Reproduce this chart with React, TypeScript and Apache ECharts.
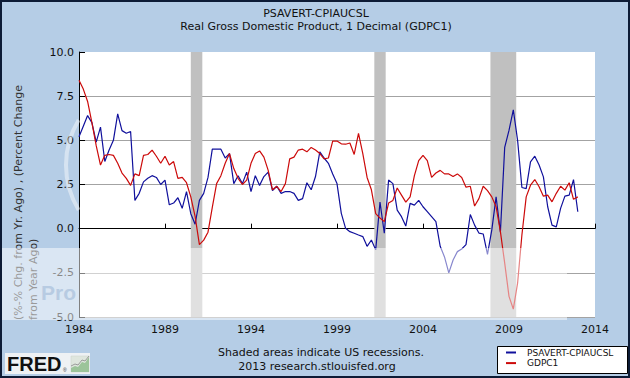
import React, { useEffect, useRef } from 'react';
import * as echarts from 'echarts';

// Quarterly observations starting 1984 Q1
const startYear = 1984;
const gdpc1 = [
  8.4, 7.9, 7.2, 6.0, 4.7, 3.6, 4.15, 4.2, 4.15, 3.7, 3.15, 2.85, 2.45, 3.1, 3.0, 4.15,
  4.2, 4.45, 4.1, 3.7, 4.1, 3.6, 3.8, 2.85, 2.9, 2.6, 1.8, 0.7, -0.9, -0.65, -0.2, 1.2,
  2.55, 3.0, 3.7, 4.25, 3.4, 2.85, 2.5, 2.75, 3.7, 4.25, 4.4, 4.05, 3.3, 2.2, 2.4, 2.1,
  2.55, 3.95, 4.05, 4.45, 4.5, 4.35, 4.6, 4.45, 4.25, 3.95, 4.0, 4.95, 4.96, 4.8, 4.78, 4.85,
  4.2, 5.4, 4.25, 2.9, 2.2, 0.85, 0.6, 0.4, 1.45, 1.6, 2.3, 1.9, 1.5, 1.8, 3.0, 3.85,
  4.15, 3.85, 2.9, 3.15, 3.3, 3.1, 3.1, 2.95, 3.1, 2.9, 2.35, 2.4, 1.28, 1.7, 2.4, 2.15,
  1.8, 1.24, -0.17, -1.95, -3.83, -4.55, -3.08, -0.36, 1.8, 2.46, 2.78, 2.37, 1.84, 1.9, 1.52, 2.0,
  2.4, 2.18, 2.6, 1.66, 1.8,
];
const psavertCpi = [
  5.2, 5.8, 6.4, 6.0, 4.9, 5.75, 3.8, 4.45, 5.0, 6.5, 5.55, 5.4, 5.5, 1.6, 2.0, 2.65,
  2.85, 3.0, 2.9, 2.5, 2.75, 1.35, 1.45, 1.75, 1.15, 2.1, 0.85, 0.25, 1.6, 2.0, 2.9, 4.5,
  4.5, 4.5, 4.0, 4.25, 2.55, 3.0, 2.55, 3.2, 2.1, 3.0, 2.45, 2.95, 3.2, 2.15, 2.4, 2.0,
  2.1, 2.1, 2.0, 1.6, 1.7, 2.6, 2.2, 2.95, 4.35, 4.0, 3.7, 3.1, 2.55, 0.87, 0.02, -0.17,
  -0.26, -0.36, -0.45, -1.0, -0.64, -1.2, 1.5, -0.26, 2.75, 2.55, 1.05, 0.68, 0.15, 1.43, 1.33, 1.6,
  1.24, 0.96, 0.68, 0.4, -1.0, -1.6, -2.5, -1.77, -1.3, -1.15, -0.9, 0.8, 0.2, -0.25, -0.3, -1.45,
  -0.07, 1.8, -0.2, 4.6, 5.56, 6.73, 5.0, 2.33, 2.27, 3.78, 4.1, 3.6, 2.93, 1.24, 0.2, 0.1,
  1.15, 1.84, 1.9, 2.78, 0.96,
];
const recessions = [
  [1990.5, 1991.17],
  [2001.17, 2001.83],
  [2007.92, 2009.42],
];
const seriesNames = ['PSAVERT-CPIAUCSL', 'GDPC1'];
const titleLines = ['PSAVERT-CPIAUCSL', 'Real Gross Domestic Product, 1 Decimal (GDPC1)'];
const yTitleLines = ['(%-% Chg. from Yr. Ago) , (Percent Change', 'from Year Ago)'];
const footLines = ['Shaded areas indicate US recessions.', '2013 research.stlouisfed.org'];

const FONT = '"DejaVu Sans", Verdana, sans-serif';

export default function App() {
  const ref = useRef<HTMLDivElement>(null);
  useEffect(() => {
    if (!ref.current) return;
    const chart = echarts.init(ref.current, null, { renderer: 'svg' });
    const toPairs = (arr: number[]) => arr.map((v, i) => [startYear + i * 0.25, v]);
    chart.setOption({
      animation: false,
      backgroundColor: '#b5cde6',
      textStyle: { fontFamily: FONT },
      grid: {
        left: 79, right: 35, top: 52, bottom: 61,
        show: true, backgroundColor: '#ffffff', borderWidth: 0,
      },
      xAxis: {
        type: 'value', min: 1984, max: 2014, interval: 5,
        axisLine: { show: true, lineStyle: { color: '#000', width: 1 } },
        axisTick: { show: true, inside: true, length: 5, lineStyle: { color: '#000' } },
        axisLabel: { fontSize: 11, color: '#111', margin: 7, fontFamily: FONT, formatter: (v: number) => String(v) },
        splitLine: { show: false },
      },
      yAxis: {
        type: 'value', min: -5, max: 10, interval: 2.5,
        axisLine: { show: true, lineStyle: { color: '#000', width: 1 } },
        axisTick: { show: true, inside: true, length: 6, lineStyle: { color: '#000' } },
        axisLabel: { fontSize: 11, color: '#111', margin: 5, fontFamily: FONT, formatter: (v: number) => v.toFixed(1) },
        splitLine: { show: true, showMaxLine: false, lineStyle: { color: '#a3a3a3', width: 1 } },
      },
      legend: {
        orient: 'vertical', left: 506, top: 348, itemWidth: 10, itemHeight: 2, itemGap: 1.6, padding: 0,
        icon: 'rect', data: seriesNames,
        textStyle: { fontSize: 9, lineHeight: 9, color: '#111', fontFamily: FONT, padding: [0, 0, 0, 6] },
      },
      series: [
        {
          name: 'recessions', type: 'line', data: [], z: 1, silent: true,
          markArea: {
            silent: true,
            itemStyle: { color: '#c0c0c0' },
            data: recessions.map(([a, b]) => [{ xAxis: a }, { xAxis: b }]),
          },
        },
        {
          name: seriesNames[0], type: 'line', data: toPairs(psavertCpi), showSymbol: false, z: 3,
          color: '#10109c', lineStyle: { color: '#10109c', width: 1.2 },
        },
        {
          name: seriesNames[1], type: 'line', data: toPairs(gdpc1), showSymbol: false, z: 3,
          color: '#cc0a0a', lineStyle: { color: '#cc0a0a', width: 1.2 },
        },
      ],
      graphic: [
        { type: 'text', x: 316, y: 13, style: { text: titleLines[0], font: `11px ${FONT}`, fill: '#111', textAlign: 'center', textVerticalAlign: 'middle' } },
        { type: 'text', x: 316, y: 26, style: { text: titleLines[1], font: `11px ${FONT}`, fill: '#111', textAlign: 'center', textVerticalAlign: 'middle' } },
        { type: 'text', x: 18, y: 320, rotation: Math.PI / 2, style: { text: yTitleLines[0], font: `11px ${FONT}`, fill: '#333', textAlign: 'left', textVerticalAlign: 'middle' } },
        { type: 'text', x: 33, y: 320, rotation: Math.PI / 2, style: { text: yTitleLines[1], font: `11px ${FONT}`, fill: '#333', textAlign: 'left', textVerticalAlign: 'middle' } },
        { type: 'text', x: 321, y: 352, style: { text: footLines[0], font: `11px ${FONT}`, fill: '#111', textAlign: 'center', textVerticalAlign: 'middle' } },
        { type: 'text', x: 317, y: 366, style: { text: footLines[1], font: `11px ${FONT}`, fill: '#111', textAlign: 'center', textVerticalAlign: 'middle' } },
        // legend box
        { type: 'rect', shape: { x: 497.5, y: 346.5, width: 130, height: 27 }, style: { fill: '#fff', stroke: '#000', lineWidth: 1 }, z: 0 },
        // FRED logo
        { type: 'rect', shape: { x: 5, y: 353, width: 85, height: 21 }, style: { fill: '#eef1f4' }, z: 0 },
        { type: 'text', x: 7, y: 364, style: { text: 'FRED', font: 'bold 20px "Liberation Sans", Arial, sans-serif', fill: '#111', textAlign: 'left', textVerticalAlign: 'middle' } },
        { type: 'text', x: 63, y: 370, style: { text: '®', font: '5px "Liberation Sans", sans-serif', fill: '#333', textAlign: 'left', textVerticalAlign: 'middle' } },
        { type: 'rect', shape: { x: 71, y: 356, width: 18, height: 16 }, style: { fill: '#dfe6de', stroke: '#c8d0c8', lineWidth: 0.5 } },
        { type: 'polygon', shape: { points: [[71, 372], [71, 368], [75, 366], [78, 367], [82, 362], [85, 363], [89, 357], [89, 372]] }, style: { fill: '#9cc49a' } },
        { type: 'polyline', shape: { points: [[71, 366], [75, 364], [78, 365], [82, 360], [85, 361], [89, 356]] }, style: { stroke: '#888', lineWidth: 0.8, fill: null } },
        // watermark band and traces
        { type: 'rect', shape: { x: 0, y: 248, width: 567, height: 72 }, style: { fill: 'rgba(255,255,255,0.5)' }, z: 100 },
        { type: 'text', x: 41, y: 292, style: { text: 'Pro', font: 'bold 21px "Liberation Sans", Arial, sans-serif', fill: '#b7cbe2', textAlign: 'left', textVerticalAlign: 'middle' }, z: 101 },
        { type: 'arc', shape: { cx: 152, cy: 165, r: 86, startAngle: Math.PI - 0.55, endAngle: Math.PI + 0.55 }, style: { stroke: 'rgba(255,255,255,0.45)', lineWidth: 4, fill: null }, z: 100 },
        // outer border
        { type: 'rect', shape: { x: 1, y: 1, width: 628, height: 376 }, style: { fill: null, stroke: '#0d1b35', lineWidth: 2 }, z: 110 },
      ],
    });
    return () => chart.dispose();
  }, []);
  return <div ref={ref} style={{ position: 'fixed', left: 0, top: 0, width: 630, height: 378 }} />;
}
